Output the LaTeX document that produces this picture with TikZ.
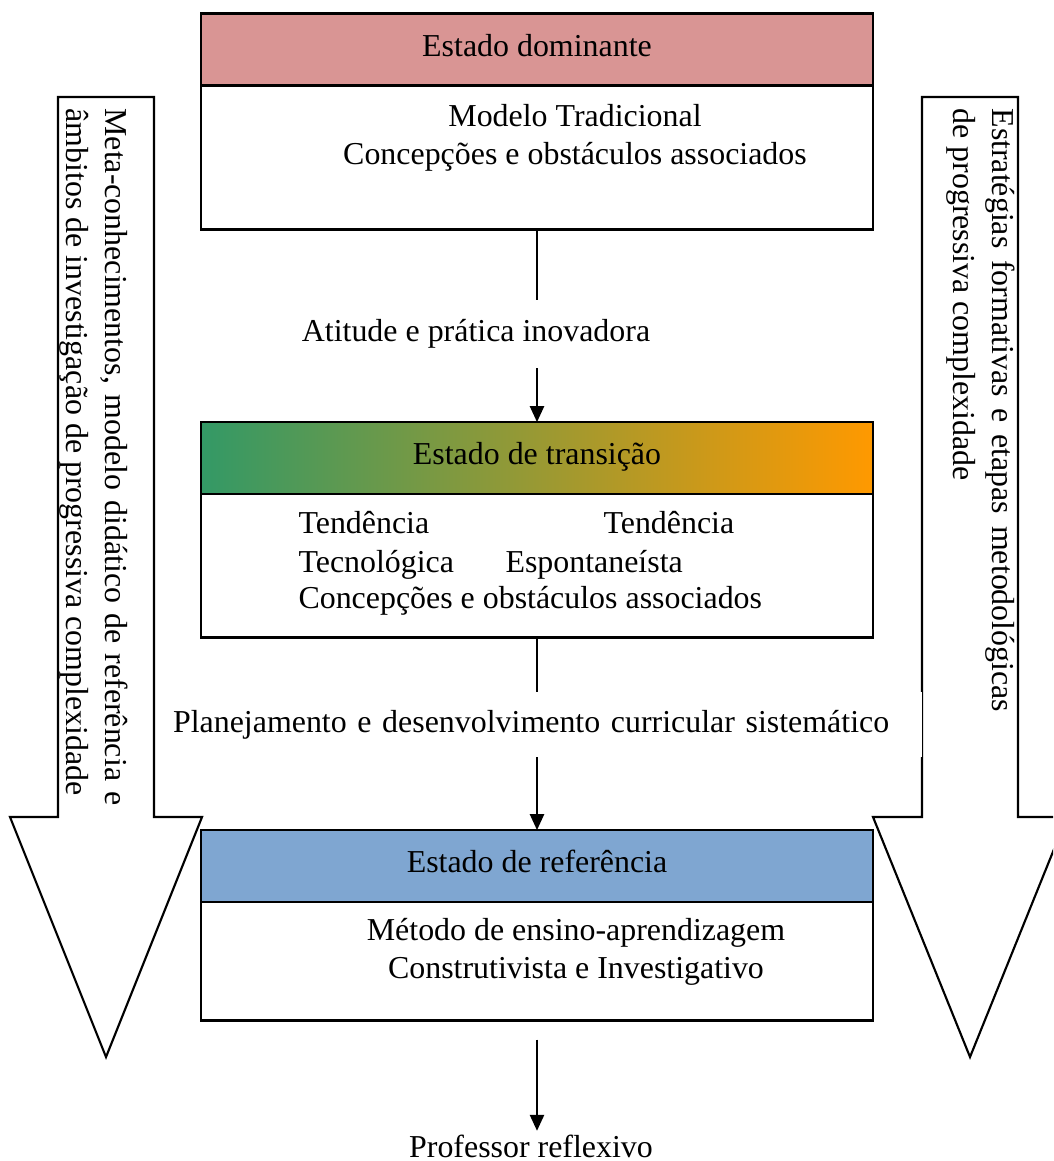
\documentclass[tikz,border=0pt]{standalone}
\usepackage{fontspec}
\setmainfont{Liberation Serif}
\usetikzlibrary{arrows.meta,positioning}
\definecolor{domcolor}{HTML}{D99594}
\definecolor{refcolor}{HTML}{7FA6D1}
\definecolor{trgreen}{HTML}{339966}
\definecolor{trorange}{HTML}{FF9900}

\begin{document}
\begin{tikzpicture}[x=0.376pt,y=-0.376pt,
	every node/.style={font=\fontsize{12}{14.3}\selectfont},
	hdr/.style={draw,line width=1pt,outer sep=0,minimum width=252.7pt,minimum height=27pt,text height=8.2pt,text depth=3.3pt},
	bodybox/.style={draw,line width=1pt,outer sep=0,minimum width=252.7pt,below=0pt of #1},
	conn/.style={line width=0.8pt,-{Triangle[length=6pt,width=5.3pt]}},
	lbl/.style={fill=white,inner xsep=4.9pt},
	bigarrow/.style={draw,line width=0.8pt,fill=white},
	sidetext/.style={rotate=-90,anchor=north west,inner sep=0,align=justify}]
	\useasboundingbox (0,0) rectangle (1053,1161);
	\clip (0,0) rectangle (1053,1161);
	% side arrows
	\draw[bigarrow] (58,97) -- (154,97) -- (154,817) -- (202,817) -- (106,1057) -- (10,817) -- (58,817) -- cycle;
	\draw[bigarrow] (922,97) -- (1018,97) -- (1018,817) -- (1067,817) -- (970,1057) -- (873,817) -- (922,817) -- cycle;
	\node[sidetext,text width=262pt] (meta) at (128,108) {Meta-conhecimentos, modelo didático de referência e\linebreak âmbitos de investigação de progressiva complexidade};
	\node[sidetext,text width=227pt] (estr) at (1015,108) {Estratégias formativas e etapas metodológicas\linebreak de progressiva complexidade};
	% the three states
	\node[hdr,fill=domcolor] (domh) at (537,49.5) {Estado dominante};
	\node[bodybox=domh,minimum height=54.1pt] (domb) {};
	\node[hdr,left color=trgreen,right color=trorange] (transh) at (537,458) {Estado de transição};
	\node[bodybox=transh,minimum height=54.1pt] (transb) {};
	\node[hdr,fill=refcolor] (refh) at (537,866) {Estado de referência};
	\node[bodybox=refh,minimum height=44.7pt] (refb) {};
	\node[anchor=north,align=center,inner sep=0] (domt) at (575,104) {Modelo Tradicional\\Concepções e obstáculos associados};
	\node[anchor=base west,inner sep=0] (tend1) at (298,533) {Tendência};
	\node[anchor=base west,inner sep=0] (tend2) at (603,533) {Tendência};
	\node[anchor=base west,inner sep=0] (tecno) at (298,572) {Tecnológica};
	\node[anchor=base west,inner sep=0] (espon) at (505,572) {Espontaneísta};
	\node[anchor=base west,inner sep=0] (transt) at (298,608) {Concepções e obstáculos associados};
	\node[anchor=north,align=center,inner sep=0] (reft) at (576,918) {Método de ensino-aprendizagem\\Construtivista e Investigativo};
	% connectors
	\draw[conn] (domb) -- (transh);
	\node[lbl,minimum height=25.6pt] (atit) at (476,334) {Atitude e prática inovadora};
	\draw[conn] (transb) -- (refh);
	\node[lbl,minimum height=24.4pt,text width=276.7pt,align=left] (plan) at (541,724.5) {Planejamento e desenvolvimento curricular sistemático};
	\node[inner sep=1.2pt,anchor=base] (prof) at (531,1157) {Professor reflexivo};
	\draw[conn,shorten <=7.1pt] (refb.south) -- (refb.south |- prof.north);
\end{tikzpicture}
\end{document}
